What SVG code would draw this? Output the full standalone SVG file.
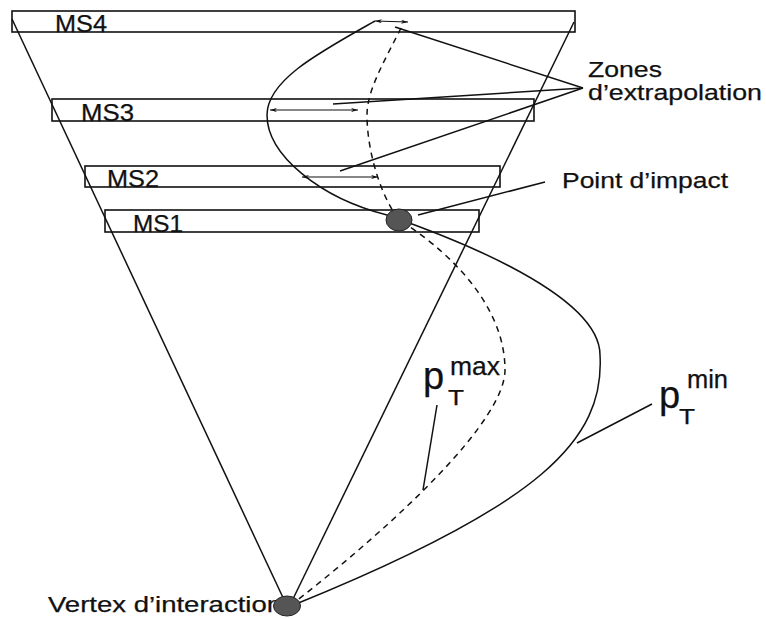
<svg xmlns="http://www.w3.org/2000/svg" width="766" height="619" viewBox="0 0 766 619">
  <defs>
    <style>
      .plane { fill: none; stroke: #111; stroke-width: 1.6; }
      .ln { fill: none; stroke: #111; stroke-width: 1.5; }
      .dash { fill: none; stroke: #111; stroke-width: 1.5; stroke-dasharray: 6 5; }
      .arr { fill: none; stroke: #111; stroke-width: 1.1; marker-start: url(#ah); marker-end: url(#ah); }
      .t { font-family: "Liberation Sans", Arial, Helvetica, sans-serif; fill: #111; font-size: 22px; stroke: #111; stroke-width: 0.25; }
      .dot { fill: #555; stroke: #222; stroke-width: 1; }
    </style>
    <marker id="ah" viewBox="0 0 10 6" refX="10" refY="3" markerWidth="7" markerHeight="4.2" markerUnits="userSpaceOnUse" orient="auto-start-reverse">
      <path d="M0,0 L10,3 L0,6 L3,3 Z" fill="#111"/>
    </marker>
  </defs>
  <rect width="766" height="619" fill="#fff"/>

  <g id="connectors">
    <!-- cone -->
    <line class="ln" x1="12" y1="19" x2="286" y2="604"/>
    <line class="ln" x1="574" y1="22" x2="291" y2="603"/>
    <!-- pT min track -->
    <path class="ln" d="M375,21 C320,52 267,80 267,115 C267,155 320,198 387,215 C430,230 600,290 600,355 C605,440 540,505 296,604"/>
    <!-- pT max track -->
    <path class="dash" d="M401,28 C385,60 367,90 367,115 C367,150 380,195 399,220 C440,245 505,300 505,370 C505,420 400,520 295,602"/>
    <!-- extrapolation arrows -->
    <line class="arr" x1="375" y1="21" x2="408" y2="22"/>
    <line class="arr" x1="270" y1="110" x2="358" y2="110"/>
    <line class="arr" x1="302" y1="177" x2="378" y2="177"/>
    <!-- leaders -->
    <line class="ln" x1="395" y1="27" x2="583" y2="88"/>
    <line class="ln" x1="333" y1="104" x2="583" y2="88"/>
    <line class="ln" x1="340" y1="171" x2="583" y2="88"/>
    <line class="ln" x1="418" y1="215" x2="545" y2="182"/>
    <line class="ln" x1="437" y1="405" x2="423" y2="490"/>
    <line class="ln" x1="577" y1="443" x2="652" y2="404"/>
  </g>

  <g id="MS4">
    <rect class="plane" x="12" y="11" width="563" height="21"/>
    <text class="t" x="55" y="32" font-size="23" style="font-size:23px" textLength="52" lengthAdjust="spacingAndGlyphs">MS4</text>
  </g>
  <g id="MS3">
    <rect class="plane" x="52" y="99" width="482" height="22"/>
    <text class="t" x="81" y="121" style="font-size:23px" textLength="53" lengthAdjust="spacingAndGlyphs">MS3</text>
  </g>
  <g id="MS2">
    <rect class="plane" x="85" y="166" width="415" height="21"/>
    <text class="t" x="107" y="187" style="font-size:23px" textLength="52" lengthAdjust="spacingAndGlyphs">MS2</text>
  </g>
  <g id="MS1">
    <rect class="plane" x="105" y="210" width="374" height="22"/>
    <text class="t" x="133" y="232" style="font-size:23px" textLength="50" lengthAdjust="spacingAndGlyphs">MS1</text>
  </g>

  <g id="impact">
    <ellipse class="dot" cx="399" cy="220" rx="13" ry="11"/>
    <text class="t" x="562" y="188" textLength="166" lengthAdjust="spacingAndGlyphs">Point d’impact</text>
  </g>

  <g id="zones">
    <text class="t" x="588" y="77" textLength="74" lengthAdjust="spacingAndGlyphs">Zones</text>
    <text class="t" x="588" y="100" textLength="174" lengthAdjust="spacingAndGlyphs">d’extrapolation</text>
  </g>

  <g id="vertex">
    <text class="t" x="48" y="612" textLength="234" lengthAdjust="spacingAndGlyphs">Vertex d’interaction</text>
    <ellipse class="dot" cx="287" cy="606" rx="13.5" ry="10"/>
  </g>

  <g id="ptmax">
    <text class="t" x="423" y="389" style="font-size:38px">p</text>
    <text class="t" x="448" y="405" textLength="16" lengthAdjust="spacingAndGlyphs">T</text>
    <text class="t" x="450" y="375" style="font-size:25px" textLength="50" lengthAdjust="spacingAndGlyphs">max</text>
  </g>

  <g id="ptmin">
    <text class="t" x="659" y="408" style="font-size:38px">p</text>
    <text class="t" x="679" y="424" textLength="16" lengthAdjust="spacingAndGlyphs">T</text>
    <text class="t" x="687" y="388" style="font-size:25px" textLength="41" lengthAdjust="spacingAndGlyphs">min</text>
  </g>
</svg>
